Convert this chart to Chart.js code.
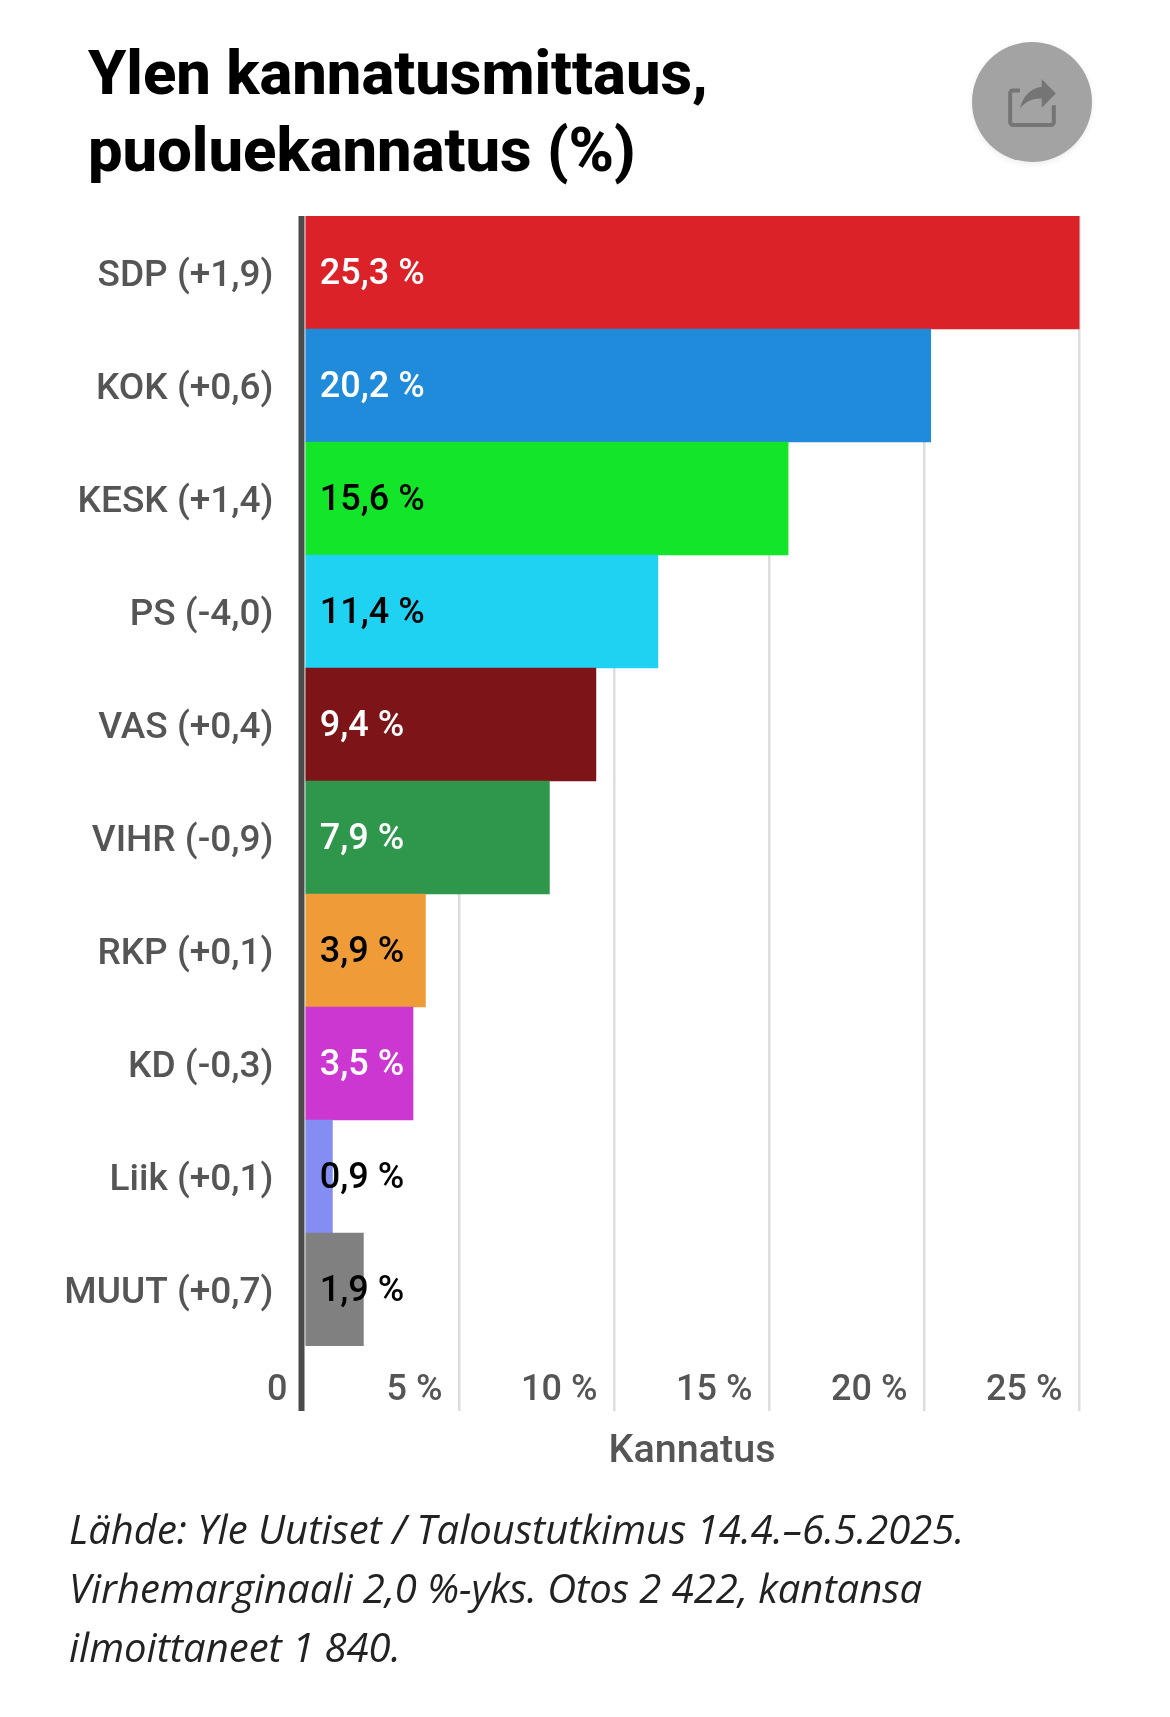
<!DOCTYPE html>
<html lang="fi">
<head>
    <meta charset="UTF-8">
    <title>Ylen kannatusmittaus, puoluekannatus (%)</title>
    <script src="https://cdn.jsdelivr.net/npm/chart.js"></script>
    <style>
        html, body { margin: 0; background: #fff; }
        #page { position: relative; width: 1170px; height: 1717px; overflow: hidden; }
        h1 { position: absolute; left: 88px; top: 35px; margin: 0; font: 800 61.5px/77px Roboto, sans-serif; color: #000; }
        #share { position: absolute; left: 972px; top: 42px; width: 120px; height: 120px; border-radius: 50%; background: #a3a3a3; box-shadow: 0 2px 6px rgba(0,0,0,.08); }
        #share svg { position: absolute; left: 36px; top: 37px; }
        #chartBox { position: absolute; left: 0; top: 0; width: 1170px; height: 1500px; }
        #source { position: absolute; left: 69px; top: 1499px; margin: 0; width: 1050px; font: italic 400 40px/59px "Open Sans", sans-serif; color: #222; }
    </style>
</head>
<body>
<div id="page">
    <h1>Ylen kannatusmittaus,<br>puoluekannatus (%)</h1>
    <div id="share">
        <svg width="48" height="48" viewBox="0 0 142 143" fill="none">
            <path d="M35 34H14a8 8 0 0 0-8 8v87a8 8 0 0 0 8 8h114a8 8 0 0 0 8-8V78" stroke="#757575" stroke-width="12"/>
            <path d="M100 0L142 43L100 86V58C72 58 52 66 35 88C42 55 64 28 100 23Z" fill="#757575"/>
        </svg>
    </div>
    <div id="chartBox"><canvas id="pollChart"></canvas></div>
    <p id="source">Lähde: Yle Uutiset / Taloustutkimus 14.4.–6.5.2025.<br>Virhemarginaali 2,0 %-yks. Otos 2 422, kantansa<br>ilmoittaneet 1 840.</p>
</div>

<script>
    const parties = ['SDP (+1,9)', 'KOK (+0,6)', 'KESK (+1,4)', 'PS (-4,0)', 'VAS (+0,4)', 'VIHR (-0,9)', 'RKP (+0,1)', 'KD (-0,3)', 'Liik (+0,1)', 'MUUT (+0,7)'];
    const support = [25.3, 20.2, 15.6, 11.4, 9.4, 7.9, 3.9, 3.5, 0.9, 1.9];
    const barColors = ['#dc2229', '#218bdb', '#13e628', '#20d2f2', '#7d1417', '#2e974c', '#ef9b37', '#cb37d0', '#848df2', '#808080'];
    const labelColors = ['#fff', '#fff', '#000', '#000', '#fff', '#fff', '#000', '#fff', '#000', '#000'];
    const xTicks = [0, 5, 10, 15, 20, 25];

    const gray = '#555555';
    const tickLen = 65;

    // arvot palkkien alkuun ja nollaviiva palkkien vasemmalle puolelle
    const valueLabels = {
        id: 'valueLabels',
        afterDatasetsDraw(chart) {
            const ctx = chart.ctx;
            const area = chart.chartArea;
            const meta = chart.getDatasetMeta(0);
            ctx.save();
            ctx.fillStyle = '#4a4a4a';
            ctx.fillRect(chart.scales.x.getPixelForValue(0) - 6, area.top, 6, area.bottom + tickLen - area.top);
            ctx.font = '500 36px Roboto, sans-serif';
            ctx.textBaseline = 'middle';
            ctx.textAlign = 'left';
            meta.data.forEach((bar, i) => {
                ctx.fillStyle = labelColors[i];
                ctx.fillText(support[i].toFixed(1).replace('.', ',') + ' %', bar.base + 14, bar.y + 2);
            });
            ctx.restore();
        }
    };

    new Chart(document.getElementById('pollChart'), {
        type: 'bar',
        data: {
            labels: parties,
            datasets: [{ data: support, backgroundColor: barColors, barPercentage: 1, categoryPercentage: 1 }]
        },
        options: {
            indexAxis: 'y',
            responsive: true,
            maintainAspectRatio: false,
            animation: false,
            layout: { padding: { left: 0, right: 90.5, top: 216, bottom: 16 } },
            plugins: { legend: { display: false }, tooltip: { enabled: false } },
            scales: {
                x: {
                    min: 0,
                    max: 25,
                    afterBuildTicks: scale => { scale.ticks = xTicks.map(v => ({ value: v })); },
                    afterFit: scale => { scale.height = 138; },
                    border: { display: false },
                    grid: {
                        tickLength: tickLen,
                        color: c => c.tick.value === 0 ? 'transparent' : '#dddddd',
                        lineWidth: 2.5
                    },
                    ticks: {
                        callback: v => v === 0 ? '0' : v + ' %',
                        maxRotation: 0,
                        autoSkip: false,
                        align: 'end',
                        labelOffset: -17,
                        padding: -42,
                        color: gray,
                        font: { family: 'Roboto', size: 36, weight: '500' }
                    },
                    title: {
                        display: true,
                        text: 'Kannatus',
                        color: gray,
                        padding: { top: 0, bottom: 8 },
                        font: { family: 'Roboto', size: 39.5, weight: '500' }
                    }
                },
                y: {
                    afterFit: scale => { scale.width = 304.5; },
                    border: { display: false },
                    grid: { display: false },
                    ticks: {
                        color: gray,
                        padding: 23,
                        labelOffset: 4,
                        autoSkip: false,
                        font: { family: 'Roboto', size: 37, weight: '500' }
                    }
                }
            }
        },
        plugins: [valueLabels]
    });
</script>
</body>
</html>
